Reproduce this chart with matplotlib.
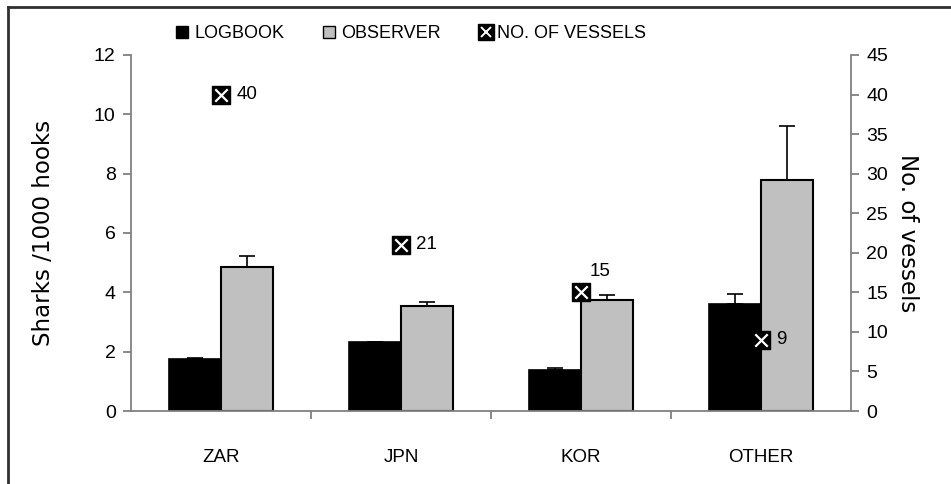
import matplotlib
matplotlib.use("Agg")
import matplotlib.pyplot as plt
from matplotlib.lines import Line2D
import numpy as np

plt.rcParams['font.family'] = ['Liberation Sans', 'DejaVu Sans']

categories = ["ZAR", "JPN", "KOR", "OTHER"]
logbook = [1.74, 2.33, 1.38, 3.61]
logbook_err = [0.04, 0.01, 0.06, 0.32]
observer = [4.86, 3.54, 3.74, 7.79]
observer_err = [0.36, 0.13, 0.18, 1.83]
vessels = [40, 21, 15, 9]
vessel_label_pos = ["right", "right", "above", "right"]

fig = plt.figure(figsize=(9.51, 4.84), dpi=100)
ax = fig.add_axes([0.1377, 0.1508, 0.7571, 0.7356])
ax2 = ax.twinx()

x = np.arange(len(categories))
w = 0.29
edge = "#000000"
ax.bar(x - w / 2, logbook, w, color="black", edgecolor=edge, linewidth=1.2, zorder=2)
ax.bar(x + w / 2, observer, w, color="#c0c0c0", edgecolor=edge, linewidth=1.5, zorder=2)
ax.errorbar(x - w / 2, logbook, yerr=[np.zeros(4), logbook_err], fmt="none",
            ecolor="black", elinewidth=1.2, capsize=6, capthick=1.2, zorder=3)
ax.errorbar(x + w / 2, observer, yerr=[np.zeros(4), observer_err], fmt="none",
            ecolor="black", elinewidth=1.2, capsize=6, capthick=1.2, zorder=3)

ax.set_xlim(-0.5, 3.5)
ax.set_ylim(0, 12)
ax.set_yticks(np.arange(0, 13, 2))
ax2.set_ylim(0, 45)
ax2.set_yticks(np.arange(0, 46, 5))

# vessel-count markers: black square with white cross
ax2.scatter(x, vessels, marker="s", s=180, color="black", zorder=5, clip_on=False)
ax2.scatter(x, vessels, marker="x", s=80, color="white", linewidths=1.6, zorder=6, clip_on=False)
for xi, v, pos in zip(x, vessels, vessel_label_pos):
    if pos == "above":
        ax2.annotate(str(v), (xi, v), xytext=(14, 15), textcoords="offset points",
                     ha="center", va="center", fontsize=13.5)
    else:
        ax2.annotate(str(v), (xi, v), xytext=(11, 0), textcoords="offset points",
                     ha="left", va="center", fontsize=13.5)
ax2.set_zorder(ax.get_zorder() + 1)
ax2.patch.set_visible(False)

axis_col = "#808080"
for a in (ax, ax2):
    a.spines["top"].set_visible(False)
    for s in ("left", "right", "bottom"):
        a.spines[s].set_color(axis_col)
        a.spines[s].set_linewidth(1.3)
ax.spines["right"].set_visible(False)
ax2.spines["left"].set_visible(False)
ax2.spines["bottom"].set_visible(False)

ax.set_xticks(x)
ax.set_xticklabels(categories, fontsize=13.5)
ax.set_xticks(np.arange(0.5, 3.5, 1.0), minor=True)
ax.tick_params(axis="x", which="major", length=0, pad=27)
ax.tick_params(axis="x", which="minor", length=6, direction="out", color=axis_col, width=1.3)
ax.tick_params(axis="y", length=6, direction="out", color=axis_col, width=1.3, labelsize=14, pad=5)
ax2.tick_params(axis="y", length=6, direction="out", color=axis_col, width=1.3, labelsize=14, pad=5)

ax.set_ylabel("Sharks /1000 hooks", fontsize=16.5, family=["DejaVu Sans"], labelpad=28)
ax2.set_ylabel("No. of vessels", fontsize=16.5, family=["DejaVu Sans"], rotation=-90, labelpad=22)

# legend
handles = [
    Line2D([], [], marker="s", linestyle="none", markersize=8, markerfacecolor="black",
           markeredgecolor="black"),
    Line2D([], [], marker="s", linestyle="none", markersize=8, markerfacecolor="#c0c0c0",
           markeredgecolor="black"),
    (Line2D([], [], marker="s", linestyle="none", markersize=11, color="black"),
     Line2D([], [], marker="x", linestyle="none", markersize=7, markeredgewidth=1.4,
            color="white")),
]
fig.legend(handles, ["LOGBOOK", "OBSERVER", "NO. OF VESSELS"], loc="center",
           bbox_to_anchor=(0.431, 0.930), ncol=3, frameon=False, fontsize=13,
           handletextpad=0.15, columnspacing=2.0, handlelength=1.0)

# outer frame (top and left edges visible)
fig.add_artist(Line2D([8 / 951, 8 / 951], [0, 1 - 7 / 484], transform=fig.transFigure,
                      color="#303030", linewidth=2))
fig.add_artist(Line2D([8 / 951, 1.0], [1 - 7 / 484, 1 - 7 / 484], transform=fig.transFigure,
                      color="#303030", linewidth=2))

fig.savefig("out.png", dpi=100)
